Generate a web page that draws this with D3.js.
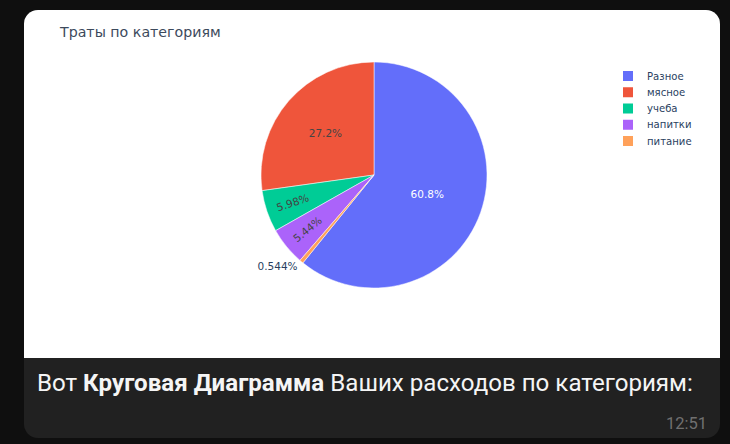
<!DOCTYPE html>
<html><head><meta charset="utf-8">
<script src="https://cdn.jsdelivr.net/npm/d3@7"></script>
<style>html,body{margin:0;padding:0;background:#0f0f0f;overflow:hidden} svg{display:block}</style>
</head><body>
<svg id="c" width="730" height="444"></svg>
<script>
// ---- data ----
const categories = ["Разное", "мясное", "учеба", "напитки", "питание"];
const values = [60.8, 27.2, 5.98, 5.44, 0.544];
const colors = ["#636efa", "#EF553B", "#00cc96", "#ab63fa", "#FFA15A"];
const chartTitle = "Траты по категориям";
const captionParts = ["Вот ", "Круговая Диаграмма", " Ваших расходов по категориям:"];
const captionBold = [false, true, false];
const timeLabel = "12:51";

// ---- layout ----
const svg = d3.select("#c");
const W = 730, H = 444;
svg.append("rect").attr("width", W).attr("height", H).attr("fill", "#0f0f0f");

const bx = 24, by = 10, bw = 696, bh = 428, rad = 14, imgH = 348;
svg.append("rect").attr("x", bx).attr("y", by).attr("width", bw).attr("height", bh)
  .attr("rx", rad).attr("ry", rad).attr("fill", "#212121");
const p = d3.path();
p.moveTo(bx, by + imgH);
p.lineTo(bx, by + rad);
p.arcTo(bx, by, bx + rad, by, rad);
p.lineTo(bx + bw - rad, by);
p.arcTo(bx + bw, by, bx + bw, by + rad, rad);
p.lineTo(bx + bw, by + imgH);
p.closePath();
svg.append("path").attr("d", p.toString()).attr("fill", "#ffffff");

const plotFont = "'DejaVu Sans', Verdana, sans-serif";
const textColor = "#2a3f5f";

svg.append("text").attr("x", 60).attr("y", 37).text(chartTitle)
  .attr("font-family", plotFont).attr("font-size", 14.2).attr("fill", "#3d4a5c");

// pie
const cx = 374, cy = 175, R = 113;
const total = d3.sum(values);
const data = categories.map((c, i) => ({ c, v: values[i], col: colors[i] }));
const a0 = values[0] / total * 2 * Math.PI;
const pie = d3.pie().sort(null).value(d => d.v).startAngle(a0).endAngle(a0 - 2 * Math.PI);
const arc = d3.arc().innerRadius(0).outerRadius(R);
const arcs = pie(data);
const g = svg.append("g").attr("transform", `translate(${cx},${cy})`);
g.selectAll("path").data(arcs).enter().append("path")
  .attr("d", arc).attr("fill", d => d.data.col)
  .attr("stroke", "#ffffff").attr("stroke-width", 0.5);

const fmt = d3.format(".3~g");
const bright = c => { const r = d3.rgb(c); return (r.r * 299 + r.g * 587 + r.b * 114) / 1000; };
arcs.forEach(a => {
  const frac = a.value / total;
  const label = fmt(frac * 100) + "%";
  const mid = (a.startAngle + a.endAngle) / 2;
  const sx = Math.sin(mid), sy = -Math.cos(mid);
  const inColor = bright(a.data.col) < 128 ? "#ffffff" : "#444444";
  const t = g.append("text").text(label).attr("font-family", plotFont).attr("font-size", 10.5);
  if (frac > 0.15) {
    const rr = R * (frac > 0.5 ? 0.5 : 0.57);
    t.attr("x", sx * rr).attr("y", sy * rr).attr("dy", "0.36em")
      .attr("text-anchor", "middle").attr("fill", inColor);
  } else if (frac > 0.01) {
    const rr = R * 0.76;
    let deg = ((mid * 180 / Math.PI) % 360 + 360) % 360;
    let rot = deg - 90;
    if (rot > 90) rot -= 180;
    if (rot < -90) rot += 180;
    t.attr("text-anchor", "middle").attr("dy", "0.36em").attr("fill", inColor)
      .attr("transform", `translate(${sx * rr},${sy * rr}) rotate(${rot})`);
  } else {
    const rr = R + 3;
    t.attr("x", sx * rr - 2).attr("y", sy * rr + 6)
      .attr("text-anchor", sx < 0 ? "end" : "start").attr("fill", textColor);
  }
});

// legend
const lg = svg.append("g").attr("transform", "translate(623,76)");
categories.forEach((c, i) => {
  const y = i * 16.25;
  lg.append("rect").attr("x", 0).attr("y", y - 5).attr("width", 10).attr("height", 10)
    .attr("fill", colors[i]);
  lg.append("text").attr("x", 24).attr("y", y).attr("dy", "0.36em").text(c)
    .attr("font-family", plotFont).attr("font-size", 10.1).attr("fill", textColor);
});

// caption
const cap = svg.append("text").attr("x", 37).attr("y", 391)
  .attr("font-family", "Roboto, sans-serif").attr("font-size", 23).attr("fill", "#f5f5f5");
captionParts.forEach((s, i) => {
  cap.append("tspan").text(s).attr("font-weight", captionBold[i] ? 700 : 400);
});
const len = cap.node().getComputedTextLength();
cap.attr("font-size", 23 * 656 / len);

svg.append("text").attr("x", 707).attr("y", 429).attr("text-anchor", "end").text(timeLabel)
  .attr("font-family", "Roboto, sans-serif").attr("font-size", 16.5).attr("fill", "#707070");
</script>
</body></html>
